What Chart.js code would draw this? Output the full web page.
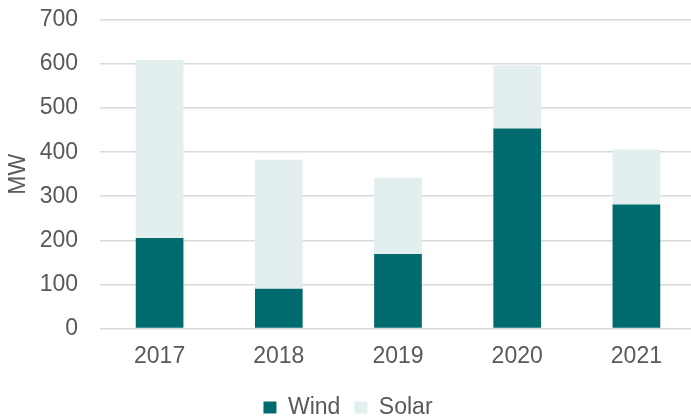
<!DOCTYPE html>
<html>
<head>
<meta charset="utf-8">
<script src="https://cdn.jsdelivr.net/npm/chart.js@4"></script>
<style>
  html, body { margin: 0; padding: 0; background: #fff; overflow: hidden; }
  #wrap { width: 691px; height: 417px; overflow: hidden; }
</style>
</head>
<body>
<div id="wrap"><canvas id="chart" width="696" height="417"></canvas></div>
<script>
const years = ['2017', '2018', '2019', '2020', '2021'];
const wind = [205, 90, 169, 454, 281];
const solar = [404, 293, 173, 143, 125];
const yTicks = [0, 100, 200, 300, 400, 500, 600, 700];

const grey = '#595959';
const font = { family: 'Liberation Sans, Arial, sans-serif', size: 23 };

const ctx = document.getElementById('chart').getContext('2d');
new Chart(ctx, {
  type: 'bar',
  data: {
    labels: years,
    datasets: [
      { label: 'Wind', data: wind, backgroundColor: '#006B6E', barPercentage: 0.4, categoryPercentage: 1 },
      { label: 'Solar', data: solar, backgroundColor: '#E3EFEF', barPercentage: 0.4, categoryPercentage: 1 }
    ]
  },
  options: {
    responsive: false,
    animation: false,
    layout: { padding: { top: 0, right: 0, bottom: -12, left: 0 } },
    plugins: {
      legend: {
        position: 'bottom',
        labels: { color: grey, font: font, boxWidth: 13, boxHeight: 12, padding: 14 }
      },
      tooltip: { enabled: false }
    },
    scales: {
      x: {
        stacked: true,
        grid: { display: false },
        border: { display: false },
        ticks: { color: grey, font: font, padding: 6 },
        afterFit: axis => { axis.height += 6; }
      },
      y: {
        stacked: true,
        min: 0,
        max: 700,
        afterBuildTicks: axis => { axis.ticks = yTicks.map(v => ({ value: v })); },
        afterFit: axis => {
          axis.width = 100;
          axis.paddingTop = 20;
          axis.paddingBottom = 0;
        },
        grid: { color: '#d9d9d9', lineWidth: 1.5, drawTicks: false },
        border: { display: false },
        ticks: { color: grey, font: font, padding: 22 },
        title: { display: true, text: 'MW', color: grey, font: font, padding: { top: 5, bottom: 0 } }
      }
    }
  }
});
</script>
</body>
</html>
